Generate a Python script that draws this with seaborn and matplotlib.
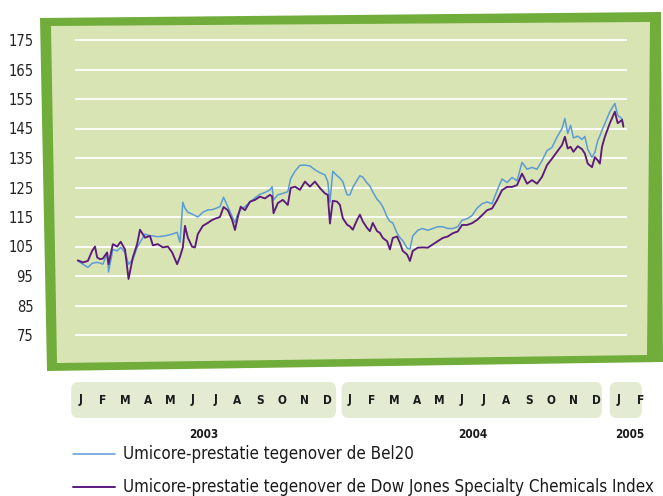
import pandas as pd
import matplotlib
matplotlib.use("Agg")
import matplotlib.pyplot as plt
import seaborn as sns
from matplotlib.patches import Polygon, FancyBboxPatch
from matplotlib.lines import Line2D

# Umicore-prestatie (index, start = 100)
datums = [
    "2003-01-02", "2003-01-09", "2003-01-16", "2003-01-22", "2003-01-26", "2003-01-29",
    "2003-02-02", "2003-02-06", "2003-02-12", "2003-02-14", "2003-02-20", "2003-02-26",
    "2003-03-03", "2003-03-09", "2003-03-14", "2003-03-20", "2003-03-26", "2003-03-30",
    "2003-04-06", "2003-04-13", "2003-04-17", "2003-04-24",
    "2003-05-01", "2003-05-08", "2003-05-14", "2003-05-21", "2003-05-25", "2003-05-29",
    "2003-06-01", "2003-06-05", "2003-06-11", "2003-06-15", "2003-06-19", "2003-06-26",
    "2003-07-03", "2003-07-09", "2003-07-14", "2003-07-20", "2003-07-25", "2003-07-31",
    "2003-08-06", "2003-08-10", "2003-08-14", "2003-08-18", "2003-08-24", "2003-08-31",
    "2003-09-07", "2003-09-14", "2003-09-21", "2003-09-28",
    "2003-10-01", "2003-10-03", "2003-10-09", "2003-10-16", "2003-10-23", "2003-10-27",
    "2003-11-02", "2003-11-09", "2003-11-16", "2003-11-23", "2003-11-30",
    "2003-12-07", "2003-12-14", "2003-12-18", "2003-12-21", "2003-12-25", "2003-12-31",
    "2004-01-04", "2004-01-08", "2004-01-14", "2004-01-18", "2004-01-22", "2004-01-28",
    "2004-02-01", "2004-02-05", "2004-02-11", "2004-02-15", "2004-02-19", "2004-02-25", "2004-02-29",
    "2004-03-04", "2004-03-10", "2004-03-14", "2004-03-18", "2004-03-24", "2004-03-28",
    "2004-04-01", "2004-04-07", "2004-04-11", "2004-04-15", "2004-04-22", "2004-04-29",
    "2004-05-06", "2004-05-13", "2004-05-20", "2004-05-27",
    "2004-06-03", "2004-06-10", "2004-06-17", "2004-06-23", "2004-06-30",
    "2004-07-07", "2004-07-14", "2004-07-21", "2004-07-28",
    "2004-08-04", "2004-08-11", "2004-08-18", "2004-08-25",
    "2004-09-01", "2004-09-08", "2004-09-15", "2004-09-22", "2004-09-29",
    "2004-10-06", "2004-10-13", "2004-10-20", "2004-10-27",
    "2004-11-03", "2004-11-10", "2004-11-14", "2004-11-18", "2004-11-22", "2004-11-26",
    "2004-12-02", "2004-12-08", "2004-12-12", "2004-12-16", "2004-12-22", "2004-12-26", "2004-12-30",
    "2005-01-02", "2005-01-05", "2005-01-09", "2005-01-16", "2005-01-23", "2005-01-27",
    "2005-02-02", "2005-02-04",
]

bel20 = [
    100.1, 99.0, 97.9, 99.3, 99.5, 99.6, 99.4, 99.0, 102.4, 96.4,
    104.0, 103.5, 104.7, 103.0, 99.0, 100.6, 104.7, 106.4, 109.2, 108.6,
    108.6, 108.3, 108.5, 108.8, 109.2, 109.8, 106.4, 120.0, 118.0, 116.6,
    116.0, 115.5, 115.0, 116.6, 117.4, 117.5, 117.9, 118.5, 121.7, 118.5,
    115.3, 113.1, 116.0, 117.5, 118.5, 120.0, 121.5, 122.7, 123.3, 124.2,
    125.3, 120.8, 122.5, 123.0, 123.6, 128.0, 130.5, 132.5, 132.6, 132.3,
    131.0, 130.0, 129.3, 127.0, 120.0, 130.5, 129.0, 128.2, 127.0, 122.5,
    122.5, 125.0, 127.5, 129.0, 128.5, 126.5, 125.5, 123.5, 121.0, 120.0,
    118.5, 115.0, 113.5, 113.0, 109.5, 108.0, 107.0, 104.5, 104.1, 108.6,
    110.5, 111.1, 110.5, 111.1, 111.7, 111.7, 111.1, 111.1, 111.7, 113.9,
    114.4, 115.5, 118.0, 119.5, 120.1, 119.5, 123.9, 127.9, 126.7, 128.4,
    127.3, 133.5, 131.2, 131.8, 131.2, 134.1, 137.5, 138.6, 142.1, 145.0,
    148.4, 143.3, 146.1, 141.8, 142.4, 141.3, 142.3, 138.0, 135.2, 136.9,
    140.9, 142.5, 144.4, 146.7, 150.7, 153.5, 149.5, 148.3, 146.2,
]

dow_jones_chem = [
    100.3, 99.6, 100.1, 103.5, 105.0, 101.3, 100.7, 100.9, 103.0, 99.0,
    105.8, 105.0, 106.6, 104.0, 94.0, 101.3, 105.8, 110.7, 108.0, 108.6,
    105.4, 105.8, 104.7, 105.0, 103.0, 99.0, 101.5, 104.7, 112.0, 108.0,
    104.9, 104.7, 109.2, 112.0, 113.0, 114.0, 114.5, 115.0, 118.4, 117.3,
    114.0, 110.6, 115.0, 118.5, 117.3, 120.2, 120.8, 121.9, 121.3, 122.5,
    122.0, 116.3, 119.7, 120.8, 119.1, 124.8, 125.3, 124.2, 127.0, 125.3,
    127.0, 124.8, 123.0, 122.5, 112.8, 120.5, 120.2, 119.1, 114.6, 112.4,
    111.8, 110.7, 114.0, 115.8, 113.5, 111.3, 110.2, 113.0, 110.2, 109.6,
    107.9, 106.8, 104.0, 107.9, 108.4, 106.2, 103.5, 102.3, 100.1, 103.5,
    104.6, 104.7, 104.6, 105.7, 106.8, 107.9, 108.4, 109.5, 110.1, 112.3,
    112.3, 112.9, 114.0, 115.6, 117.3, 117.9, 120.7, 124.1, 125.2, 125.2,
    125.8, 129.7, 126.3, 127.5, 126.3, 128.6, 132.6, 134.8, 137.1, 139.4,
    142.2, 138.2, 138.8, 137.1, 139.0, 138.0, 136.5, 133.1, 131.9, 135.3,
    134.2, 133.1, 138.8, 142.2, 146.8, 150.7, 146.8, 147.9, 145.6,
]

reeksen = [
    "Umicore-prestatie tegenover de Bel20",
    "Umicore-prestatie tegenover de Dow Jones Specialty Chemicals Index",
]
kleuren = ["#5b9bd5", "#5c1a7c"]

y_ticks = [75, 85, 95, 105, 115, 125, 135, 145, 155, 165, 175]

maanden = ["J", "F", "M", "A", "M", "J", "J", "A", "S", "O", "N", "D",
           "J", "F", "M", "A", "M", "J", "J", "A", "S", "O", "N", "D",
           "J", "F"]
jaren = ["2003", "2004", "2005"]
jaar_midden = [5.5, 17.5, 24.5]            # positie jaartal (maand-index)
jaar_blokken = [(-0.42, 11.4), (11.65, 23.27), (23.62, 25.05)]

df = pd.DataFrame({
    "Datum": pd.to_datetime(datums * 2),
    "Index": bel20 + dow_jones_chem,
    "Reeks": [reeksen[0]] * len(bel20) + [reeksen[1]] * len(dow_jones_chem),
})

# --- Figuur ---
W, H = 663, 496
sns.set_style("white")
plt.rcParams["font.family"] = ["DejaVu Sans"]
plt.rcParams["font.stretch"] = "condensed"

fig = plt.figure(figsize=(W / 100, H / 100), dpi=100)


def px(x, y):
    return (x / W, 1 - y / H)


# groene kader (licht scheef, zoals in het jaarverslag)
rand = Polygon([px(40, 18), px(661, 12), px(663, 362), px(47, 371)],
               closed=True, transform=fig.transFigure, facecolor="#70ad3b",
               edgecolor="none", zorder=-3)
binnen = Polygon([px(51, 26), px(650, 22), px(647, 355), px(57, 363)],
                 closed=True, transform=fig.transFigure, facecolor="#d9e4b5",
                 edgecolor="none", zorder=-2)
fig.add_artist(rand)
fig.add_artist(binnen)

# hoofdgrafiek: 175 op y=40 px, 75 op y=335 px
ppu = (335 - 40) / 100
top = 40 - ppu
bottom = 335 + ppu
ax = fig.add_axes([75 / W, 1 - bottom / H, (627 - 75) / W, (bottom - top) / H])
ax.patch.set_alpha(0)

sns.lineplot(data=df, x="Datum", y="Index", hue="Reeks", palette=kleuren,
             estimator=None, legend=False, ax=ax, linewidth=1.2)
for lijn, lw in zip(ax.get_lines(), [1.1, 1.35]):
    lijn.set_linewidth(lw)

ax.set_ylim(74, 176)
ax.set_xlim(pd.Timestamp("2002-12-29"), pd.Timestamp("2005-02-09"))
ax.set_yticks(y_ticks)
ax.set_yticklabels([str(v) for v in y_ticks], fontsize=10.5, color="#222222")
ax.tick_params(axis="y", length=0, pad=30)
ax.set_xticks([])
ax.set_xlabel("")
ax.set_ylabel("")
ax.grid(axis="y", color="white", linewidth=1.3)
ax.grid(axis="x", visible=False)
ax.set_axisbelow(True)
for s in ax.spines.values():
    s.set_visible(False)

# maandenband
b_left, b_right, b_top, b_bot = 60, 663, 380, 420
band = fig.add_axes([b_left / W, 1 - b_bot / H, (b_right - b_left) / W, (b_bot - b_top) / H])
mpp = 22.4  # pixels per maand
x0 = -(80.7 - b_left) / mpp
band.set_xlim(x0, x0 + (b_right - b_left) / mpp)
hb = (b_bot - b_top) / mpp
band.set_ylim(0, hb)
band.axis("off")
for (a, b) in jaar_blokken:
    band.add_patch(FancyBboxPatch((a, 2 / mpp), b - a, hb - 4 / mpp,
                                  boxstyle="round,pad=0,rounding_size=0.32",
                                  facecolor="#e3ebd3", edgecolor="none"))
for i, m in enumerate(maanden):
    band.text(i, hb / 2, m, ha="center", va="center", fontsize=8.5,
              fontweight="bold", color="#1a1a1a")
for pos, jaar in zip(jaar_midden, jaren):
    band.text(pos, -(435 - b_bot) / mpp, jaar, ha="center", va="center",
              fontsize=8.5, fontweight="bold", color="#1a1a1a", clip_on=False)

# legende
for (yy, naam, kl, lw) in [(454, reeksen[0], kleuren[0], 1.1),
                           (487, reeksen[1], kleuren[1], 1.4)]:
    fig.add_artist(Line2D([73 / W, 115 / W], [1 - yy / H, 1 - yy / H],
                          color=kl, linewidth=lw, transform=fig.transFigure))
    fig.text(123 / W, 1 - yy / H, naam, ha="left", va="center",
             fontsize=12.2, color="#1a1a1a")

fig.savefig("out.png", dpi=100)
